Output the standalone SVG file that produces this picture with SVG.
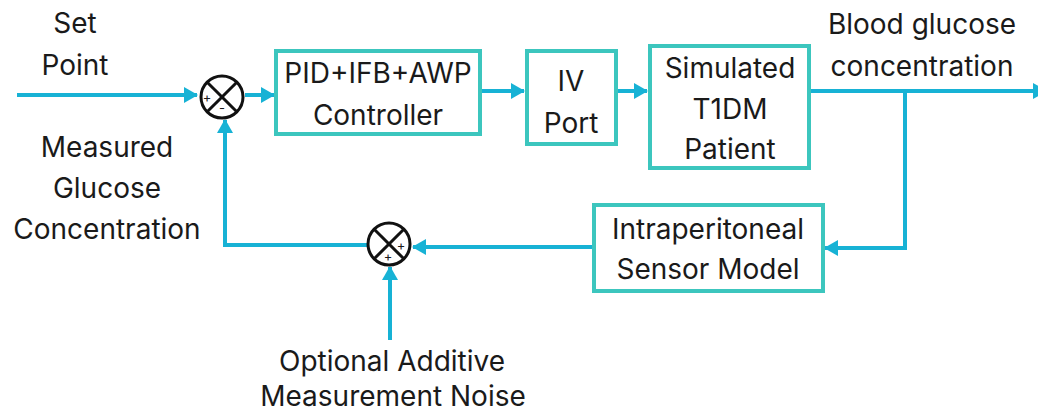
<svg xmlns="http://www.w3.org/2000/svg" width="1038" height="414" viewBox="0 0 1038 414">
<style>
.box{fill:#fff;stroke:#3CC6BE;stroke-width:4}
.wire{fill:none;stroke:#17B2D5;stroke-width:4}
.sum{fill:#fff;stroke:#111;stroke-width:3}
.x{stroke:#111;stroke-width:3}
text{font-family:Inter,"Liberation Sans",sans-serif;font-size:28px;fill:#1a1a1a;text-anchor:middle}
.sign{font-size:13px}
</style>
<defs>
<marker id="ah" markerUnits="userSpaceOnUse" markerWidth="14" markerHeight="16" refX="13" refY="8" orient="auto">
<path d="M0,0 L14,8 L0,16 Z" fill="#17B2D5"/>
</marker>
</defs>
<g id="connectors">
<path class="wire" d="M17,95 L197,95" marker-end="url(#ah)"/>
<path class="wire" d="M245,95 L274,95" marker-end="url(#ah)"/>
<path class="wire" d="M482,91 L524,91" marker-end="url(#ah)"/>
<path class="wire" d="M618,91 L647,91" marker-end="url(#ah)"/>
<path class="wire" d="M811,91 L1046,91" marker-end="url(#ah)"/>
<path class="wire" d="M905,91 L905,248 L825,248" marker-end="url(#ah)"/>
<path class="wire" d="M592,247 L413,247" marker-end="url(#ah)"/>
<path class="wire" d="M367,245 L225,245 L225,120" marker-end="url(#ah)"/>
<path class="wire" d="M390,340 L390,267" marker-end="url(#ah)"/>
</g>
<g id="sum1">
<circle class="sum" cx="222" cy="97" r="21"/>
<line class="x" x1="207.2" y1="82.2" x2="236.8" y2="111.8"/>
<line class="x" x1="236.8" y1="82.2" x2="207.2" y2="111.8"/>
<text class="sign" x="207" y="102">+</text>
<text class="sign" x="222" y="113">-</text>
</g>
<g id="sum2">
<circle class="sum" cx="389" cy="244" r="21"/>
<line class="x" x1="374.2" y1="229.2" x2="403.8" y2="258.8"/>
<line class="x" x1="403.8" y1="229.2" x2="374.2" y2="258.8"/>
<text class="sign" x="401" y="250">+</text>
<text class="sign" x="388" y="261">+</text>
</g>
<g id="controller">
<rect class="box" x="276" y="51" width="204" height="83"/>
<text x="378" y="83">PID+IFB+AWP</text>
<text x="378" y="125">Controller</text>
</g>
<g id="ivport">
<rect class="box" x="527" y="51" width="89" height="93"/>
<text x="571" y="91">IV</text>
<text x="571" y="133">Port</text>
</g>
<g id="patient">
<rect class="box" x="650" y="46" width="159" height="122"/>
<text x="730" y="78">Simulated</text>
<text x="730" y="119">T1DM</text>
<text x="730" y="159">Patient</text>
</g>
<g id="sensor">
<rect class="box" x="594" y="205" width="229" height="86"/>
<text x="708" y="239">Intraperitoneal</text>
<text x="708" y="279">Sensor Model</text>
</g>
<g id="labels">
<text x="75" y="33">Set</text>
<text x="75" y="75">Point</text>
<text x="107" y="157">Measured</text>
<text x="107" y="198">Glucose</text>
<text x="107" y="239">Concentration</text>
<text x="922" y="34">Blood glucose</text>
<text x="922" y="76">concentration</text>
<text x="392" y="371">Optional Additive</text>
<text x="393" y="406">Measurement Noise</text>
</g>
</svg>
